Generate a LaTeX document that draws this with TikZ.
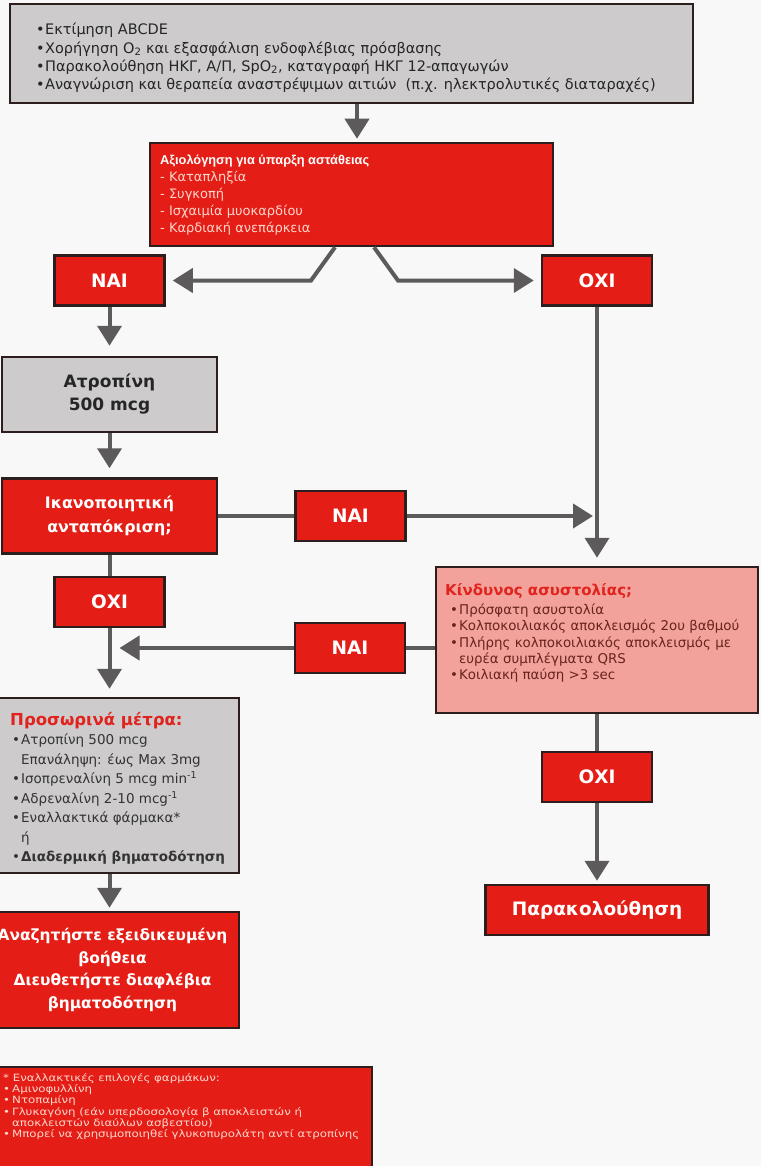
\documentclass[tikz,border=0pt]{standalone}
\usepackage{fontspec}
\setmainfont{DejaVu Sans}
\newfontfamily\narrowfont{Liberation Sans}
\newfontfamily\footfont[FakeStretch=1.18]{DejaVu Sans}
\usetikzlibrary{arrows.meta}
\definecolor{myred}{RGB}{228,30,22}
\definecolor{mygray}{RGB}{205,203,203}
\definecolor{mypink}{RGB}{242,162,154}
\definecolor{edgec}{RGB}{45,30,30}
\definecolor{arrowc}{RGB}{92,90,90}
\definecolor{bgc}{RGB}{248,248,248}
\definecolor{kindtext}{RGB}{105,35,30}
\definecolor{titlered}{RGB}{225,35,30}
\definecolor{lightpink}{RGB}{255,214,204}
\newcommand{\bul}{\makebox[9pt][l]{\textbullet}}
\newcommand{\indt}{\hspace*{9pt}}
\begin{document}
\begin{tikzpicture}[x=1pt,y=-1pt,
  box/.style={draw=edgec, line width=2.5pt, rectangle, inner sep=0pt, align=center},
  redbox/.style={box, fill=myred, text=white, font=\fontsize{16.5}{23}\selectfont\bfseries},
  graybox/.style={box, fill=mygray, text=black!85, font=\fontsize{17}{23}\selectfont\bfseries},
  pinkbox/.style={box, fill=mypink},
  lbl/.style={redbox, minimum width=110pt, minimum height=50pt, font=\fontsize{18.5}{20}\selectfont\bfseries},
  arr/.style={draw=arrowc, line width=4pt, -{Triangle[width=24pt,length=20pt]}, shorten >=7pt},
  conn/.style={draw=arrowc, line width=4pt},
  txt/.style={anchor=north west, align=left, inner sep=0pt}
]
\useasboundingbox (0,0) rectangle (761,1166);
\clip (0,0) rectangle (761,1166);
\fill[bgc] (0,0) rectangle (761,1166);

% boxes
\node[box, fill=mygray, minimum width=683pt, minimum height=99pt] (top) at (351.5,53.5) {};
\node[txt, font=\fontsize{14.5}{18.3}\selectfont, text=black!85] (toptxt) at (36,23)
 {\bul Εκτίμηση ABCDE\\
  \bul Χορήγηση O\textsubscript{2} και εξασφάλιση ενδοφλέβιας πρόσβασης\\
  \bul Παρακολούθηση ΗΚΓ, Α/Π, SpO\textsubscript{2}, καταγραφή ΗΚΓ 12-απαγωγών\\
  \bul Αναγνώριση και θεραπεία αναστρέψιμων αιτιών\ \ (π.χ. ηλεκτρολυτικές διαταραχές)};

\node[box, fill=myred, minimum width=403pt, minimum height=103pt] (assess) at (351.5,194.5) {};
\node[txt, text=lightpink, font=\fontsize{13}{17}\selectfont] (asstxt) at (160,155)
 {\textcolor{white}{\narrowfont\fontsize{12.8}{17}\selectfont\bfseries Αξιολόγηση για ύπαρξη αστάθειας}\\
  - Καταπληξία\\- Συγκοπή\\- Ισχαιμία μυοκαρδίου\\- Καρδιακή ανεπάρκεια};

\node[lbl] (nai1) at (109.5,280.5) {ΝΑΙ};
\node[lbl] (oxi1) at (597,280.5) {ΟΧΙ};

\node[graybox, minimum width=215pt, minimum height=75pt] (atrop) at (109.5,394.5) {Ατροπίνη\\500 mcg};
\node[redbox, minimum width=215pt, minimum height=75pt, font=\fontsize{15.8}{24}\selectfont\bfseries] (ikano) at (109.5,516) {Ικανοποιητική\\ανταπόκριση;};
\node[lbl] (nai2) at (350.5,516) {ΝΑΙ};
\node[lbl] (oxi2) at (109.5,602) {ΟΧΙ};

\node[pinkbox, minimum width=322pt, minimum height=146pt] (kind) at (597,640) {};
\node[txt, text=kindtext, font=\fontsize{13.4}{16.3}\selectfont] (kindtxt) at (445,583)
 {\textcolor{titlered}{\fontsize{15}{17}\selectfont\bfseries Κίνδυνος ασυστολίας;}\\[3pt]
  \hspace*{5pt}\bul Πρόσφατη ασυστολία\\
  \hspace*{5pt}\bul Κολποκοιλιακός αποκλεισμός 2ου βαθμού\\
  \hspace*{5pt}\bul Πλήρης κολποκοιλιακός αποκλεισμός με\\
  \hspace*{5pt}\indt ευρέα συμπλέγματα QRS\\
  \hspace*{5pt}\bul Κοιλιακή παύση >3 sec};
\node[lbl] (nai3) at (350,648) {ΝΑΙ};

\node[box, fill=mygray, minimum width=259pt, minimum height=175pt] (prosw) at (109.5,785.5) {};
\node[txt, text=black!80, font=\fontsize{13.5}{19.5}\selectfont] (proswtxt) at (10,712)
 {\textcolor{titlered}{\fontsize{16.5}{18}\selectfont\bfseries Προσωρινά μέτρα:}\\
  \hspace*{2pt}\bul Ατροπίνη 500 mcg\\
  \hspace*{2pt}\indt Επανάληψη: έως Max 3mg\\
  \hspace*{2pt}\bul Ισοπρεναλίνη 5 mcg min\textsuperscript{-1}\\
  \hspace*{2pt}\bul Αδρεναλίνη 2-10 mcg\textsuperscript{-1}\\
  \hspace*{2pt}\bul Εναλλακτικά φάρμακα*\\
  \hspace*{2pt}\indt ή\\
  \hspace*{2pt}\bul \textbf{Διαδερμική βηματοδότηση}};

\node[redbox, minimum width=253pt, minimum height=116pt, font=\fontsize{15.4}{22.5}\selectfont\bfseries] (anaz) at (112.5,970)
 {Αναζητήστε εξειδικευμένη\\βοήθεια\\Διευθετήστε διαφλέβια\\βηματοδότηση};

\node[lbl] (oxi3) at (597,777) {ΟΧΙ};
\node[redbox, minimum width=223pt, minimum height=50pt, font=\fontsize{18.5}{20}\selectfont\bfseries] (parak) at (597,910) {Παρακολούθηση};

\node[box, fill=myred, minimum width=392pt, minimum height=120pt] (foot) at (176,1127) {};
\node[txt, text=lightpink, font=\footfont\fontsize{10}{11.3}\selectfont] (foottxt) at (3,1073)
 {* Εναλλακτικές επιλογές φαρμάκων:\\
  \bul Αμινοφυλλίνη\\
  \bul Ντοπαμίνη\\
  \bul Γλυκαγόνη (εάν υπερδοσολογία β αποκλειστών ή\\
  \indt αποκλειστών διαύλων ασβεστίου)\\
  \bul Μπορεί να χρησιμοποιηθεί γλυκοπυρολάτη αντί ατροπίνης};

% helper coordinates
\coordinate (c1) at (357,0);
\coordinate (fL1) at (335,0);
\coordinate (fL2) at (311,0);
\coordinate (fR1) at (374,0);
\coordinate (fR2) at (398,0);

% connectors
\draw[arr, shorten >=3pt] (top.south -| c1) -- (assess.north -| c1);
\draw[arr] (assess.south -| fL1) -- (nai1.east -| fL2) -- (nai1.east);
\draw[arr] (assess.south -| fR1) -- (oxi1.west -| fR2) -- (oxi1.west);
\draw[arr, shorten >=10pt] (nai1.south) -- (atrop.north);
\draw[arr, shorten >=9pt] (atrop.south) -- (ikano.north);
\draw[conn] (ikano.east) -- (nai2.west);
\draw[arr, shorten >=4pt] (nai2.east) -- (nai2.east -| oxi1.south);
\draw[arr, shorten >=8pt] (oxi1.south) -- (kind.north);
\draw[conn] (ikano.south) -- (oxi2.north);
\draw[arr, shorten >=8pt] (oxi2.south) -- (prosw.north);
\draw[conn] (nai3.east -| kind.west) -- (nai3.east);
\draw[arr, shorten >=10pt] (nai3.west) -- (nai3.west -| oxi2.south);
\draw[arr, shorten >=3pt] (prosw.south) -- (anaz.north -| prosw.south);
\draw[conn] (kind.south) -- (oxi3.north);
\draw[arr, shorten >=3pt] (oxi3.south) -- (parak.north);
\end{tikzpicture}
\end{document}
